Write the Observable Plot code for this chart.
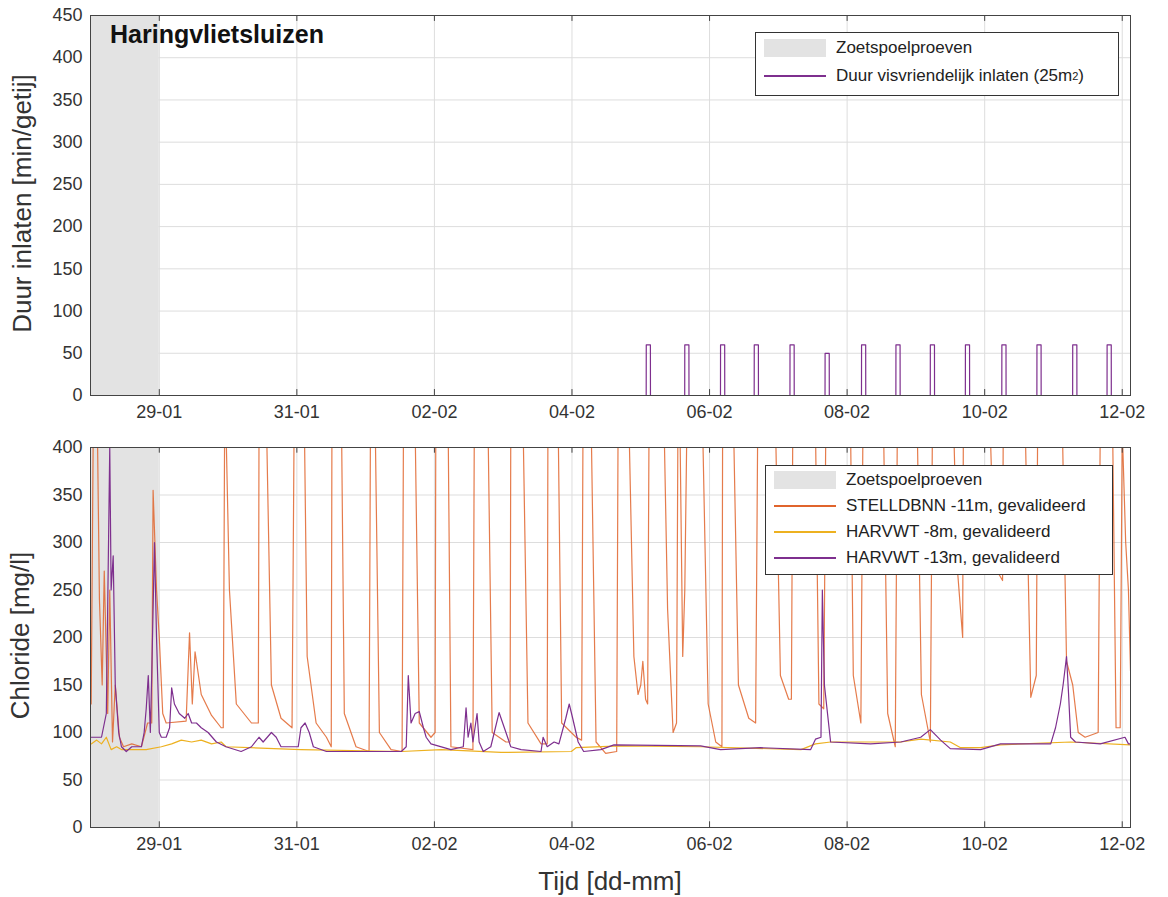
<!DOCTYPE html>
<html><head><meta charset="utf-8">
<script src="https://cdn.jsdelivr.net/npm/d3@7"></script>
<script src="https://cdn.jsdelivr.net/npm/@observablehq/plot@0.6"></script>
<style>
body{margin:0;background:#fff;font-family:"Liberation Sans",Arial,sans-serif;}
#wrap{position:relative;width:1168px;height:897px;}
.lg{position:absolute;background:#fff;border:1px solid #333;font-size:17px;color:#222;}
.row{position:absolute;left:8px;display:flex;align-items:center;white-space:nowrap;}
.sw{width:62px;margin-right:10px;}
.ylab{position:absolute;font-size:26px;color:#333;transform:rotate(-90deg);transform-origin:center;white-space:nowrap;}
</style></head><body><div id="wrap"></div>
<script>
// time in days since 28-01 00:00
const origin = Date.UTC(2021,0,28);
const T = d => new Date(origin + d*86400000);
const shade = [0, 1.0];
const pulseStart = [8.08,8.64,9.16,9.65,10.17,10.68,11.21,11.71,12.21,12.72,13.25,13.76,14.28,14.78];
const pulseValue = [60,60,60,60,60,50,60,60,60,60,60,60,60,60];
const pulseWidth = 0.06;
const stellT = [.01,.04,.10,.13,.17,.20,.25,.28,.32,.36,.42,.48,.60,.74,.83,.89,.91,.96,1.00,1.05,1.10,1.39,1.44,1.48,1.52,1.61,1.76,1.90,1.93,1.95,1.97,2.02,2.12,2.34,2.44,2.45,2.56,2.63,2.77,2.93,2.96,3.11,3.15,3.28,3.43,3.50,3.51,3.65,3.69,3.86,4.05,4.07,4.14,4.20,4.37,4.53,4.55,4.72,4.78,4.95,5.01,5.02,5.20,5.24,5.56,5.58,5.78,5.84,6.04,6.10,6.11,6.29,6.36,6.55,6.64,6.65,6.80,6.85,7.06,7.14,7.16,7.28,7.35,7.49,7.65,7.67,7.83,7.90,7.96,8.00,8.03,8.07,8.10,8.12,8.34,8.39,8.47,8.52,8.54,8.57,8.61,8.64,8.67,8.90,8.98,9.09,9.18,9.19,9.35,9.42,9.57,9.67,9.70,9.96,10.03,10.15,10.19,10.21,10.54,10.59,10.66,10.69,11.05,11.09,11.20,11.23,11.53,11.59,11.70,11.73,12.02,12.08,12.21,12.24,12.55,12.60,12.68,12.69,13.08,13.14,13.26,13.27,13.59,13.67,13.75,13.77,14.13,14.19,14.28,14.36,14.46,14.65,14.68,14.86,14.91,14.97,15.00,15.05,15.09,15.12];
const stellV = [130,420,420,240,150,270,120,250,90,150,95,85,88,85,110,110,355,250,200,120,110,112,205,130,185,140,118,105,105,420,420,250,130,110,110,420,420,150,115,105,420,420,180,110,95,85,420,420,120,85,80,420,420,100,82,80,420,420,110,95,100,420,420,85,82,420,420,100,90,90,420,420,110,88,88,420,420,110,95,92,420,420,90,78,80,420,420,180,140,150,175,135,130,420,420,230,100,110,420,420,180,250,420,420,130,90,85,420,420,150,115,110,420,420,160,135,135,420,420,130,125,420,420,160,110,420,420,120,85,420,420,140,90,420,420,275,200,420,420,275,260,420,420,137,160,420,420,175,150,100,95,100,420,420,105,105,420,300,250,165];
const harv13T = [.01,.16,.23,.28,.30,.33,.36,.41,.45,.52,.60,.74,.78,.81,.84,.87,.89,.93,.96,1.00,1.03,1.10,1.15,1.18,1.22,1.29,1.37,1.42,1.47,1.54,1.61,1.71,1.83,1.97,2.19,2.34,2.45,2.51,2.63,2.70,2.77,3.02,3.06,3.12,3.18,3.24,3.43,4.52,4.59,4.62,4.66,4.72,4.78,4.84,4.88,4.95,5.24,5.42,5.46,5.49,5.53,5.56,5.62,5.65,5.71,5.82,5.94,6.04,6.11,6.26,6.55,6.58,6.64,6.74,6.81,6.91,6.96,7.01,7.09,7.17,7.42,7.61,8.87,9.16,9.74,10.47,10.54,10.62,10.64,10.67,10.70,10.76,11.34,11.78,12.07,12.21,12.36,12.50,12.94,13.23,13.96,14.03,14.10,14.14,14.19,14.22,14.25,14.32,14.68,15.04,15.09,15.12];
const harv13V = [95,95,120,400,250,286,150,100,85,80,85,85,100,125,160,100,160,300,200,100,95,95,105,147,130,120,115,120,110,110,105,100,90,85,80,85,95,90,100,95,85,85,105,110,100,85,80,80,85,160,110,120,122,105,95,88,82,85,126,95,110,90,120,90,80,85,121,100,85,82,80,95,85,90,88,115,130,115,90,80,82,87,86,82,84,82,93,95,250,150,130,90,88,90,95,103,92,83,82,88,88,105,130,150,180,140,95,90,88,95,88,88];
const harv8T = [.01,.09,.16,.23,.30,.38,.45,.81,1.03,1.18,1.32,1.47,1.61,1.76,1.90,1.97,3.06,4.52,5.10,5.97,6.99,7.06,7.71,8.87,10.33,10.54,10.76,11.78,12.07,12.50,12.65,12.94,13.23,14.25,15.12];
const harv8V = [88,92,88,95,82,85,82,82,85,88,92,90,92,88,90,85,82,80,82,79,80,84,86,85,82,88,90,90,93,90,84,84,87,90,87];
const xTickDays = [1,3,5,7,9,11,13,15];
const topTicks = [0,50,100,150,200,250,300,350,400,450];
const botTicks = [0,50,100,150,200,250,300,350,400];

const C_OR="#e0642c", C_YE="#EDB120", C_PU="#7E2F8E";
const xdom=[T(0),T(15.12)];
const pulses=[];
pulseStart.forEach((s,i)=>{pulses.push({t:T(s-0.001),v:0},{t:T(s),v:pulseValue[i]},{t:T(s+pulseWidth),v:pulseValue[i]},{t:T(s+pulseWidth+0.001),v:0});});
const pulseLine=[{t:T(0),v:0},...pulses,{t:T(15.12),v:0}];
const ser=(ts,vs)=>ts.map((d,i)=>({t:T(d),v:vs[i]})).filter(d=>d.v!==undefined);
const common={width:1168,marginLeft:90,marginRight:38,style:{fontFamily:"Liberation Sans, Arial, sans-serif",fontSize:"18px",color:"#333"}};
const xAx=()=>Plot.axisX(xTickDays.map(T),{tickFormat:d3.utcFormat("%d-%m"),tickSize:0,tickPadding:10,fontSize:18,label:null});
const xTk=(y)=>Plot.tickX(xTickDays.map(T),{x:d=>d,y1:y[0],y2:y[1],stroke:"#444"});
const grid=(yt)=>[Plot.gridX(xTickDays.map(T),{stroke:"#ddd",strokeOpacity:1}),Plot.gridY(yt,{stroke:"#ddd",strokeOpacity:1})];
const chartTop=Plot.plot({...common,height:430,marginTop:15,marginBottom:35,
 x:{type:"utc",domain:xdom},y:{domain:[0,450]},
 marks:[...grid(topTicks),
  Plot.rect([shade],{x1:d=>T(d[0]),x2:d=>T(d[1]),y1:0,y2:450,fill:"#e3e3e3"}),
  Plot.line(pulseLine,{x:"t",y:"v",stroke:C_PU,strokeWidth:1.2}),
  Plot.ruleX(xTickDays.map(T),{y1:0,y2:7,stroke:"#444"}),
  Plot.ruleX(xTickDays.map(T),{y1:443,y2:450,stroke:"#444"}),
  Plot.axisY(topTicks,{tickSize:0,tickPadding:8,fontSize:18,label:null}),
  xAx(), Plot.frame({stroke:"#444"})]});
const chartBot=Plot.plot({...common,height:467,marginTop:17,marginBottom:70,
 x:{type:"utc",domain:xdom},y:{domain:[0,400]},
 marks:[...grid(botTicks),
  Plot.rect([shade],{x1:d=>T(d[0]),x2:d=>T(d[1]),y1:0,y2:400,fill:"#e3e3e3"}),
  Plot.line(ser(stellT,stellV),{x:"t",y:"v",stroke:C_OR,strokeWidth:1.2,strokeOpacity:0.85,clip:true}),
  Plot.line(ser(harv8T,harv8V),{x:"t",y:"v",stroke:C_YE,strokeWidth:1.2,clip:true}),
  Plot.line(ser(harv13T,harv13V),{x:"t",y:"v",stroke:C_PU,strokeWidth:1.2,clip:true}),
  Plot.ruleX(xTickDays.map(T),{y1:0,y2:6,stroke:"#444"}),
  Plot.ruleX(xTickDays.map(T),{y1:394,y2:400,stroke:"#444"}),
  Plot.axisY(botTicks,{tickSize:0,tickPadding:8,fontSize:18,label:null}),
  xAx(), Plot.frame({stroke:"#444"})]});
const w=document.getElementById("wrap");
chartTop.style.position="absolute";chartTop.style.left="0";chartTop.style.top="0";
chartBot.style.position="absolute";chartBot.style.left="0";chartBot.style.top="430px";
w.append(chartTop,chartBot);
const add=h=>w.insertAdjacentHTML("beforeend",h);
add(`<div style="position:absolute;left:110px;top:20px;font-size:25px;font-weight:bold;color:#111">Haringvlietsluizen</div>`);
add(`<div class="ylab" style="left:-108px;top:188px;width:260px;text-align:center">Duur inlaten [min/getij]</div>`);
add(`<div class="ylab" style="left:-80px;top:620px;width:200px;text-align:center">Chloride [mg/l]</div>`);
add(`<div style="position:absolute;left:0;width:1220px;top:866px;text-align:center;font-size:26px;color:#333">Tijd [dd-mm]</div>`);
add(`<div class="lg" style="left:755px;top:32px;width:362px;height:62px">
<div class="row" style="top:5px"><div class="sw" style="height:18px;background:#e3e3e3"></div>Zoetspoelproeven</div>
<div class="row" style="top:33px"><div class="sw" style="height:1.5px;background:${C_PU}"></div>Duur visvriendelijk inlaten (25m<sup style="font-size:11px">2</sup>)</div></div>`);
add(`<div class="lg" style="left:765px;top:465px;width:346px;height:108px">
<div class="row" style="top:4px"><div class="sw" style="height:18px;background:#e3e3e3"></div>Zoetspoelproeven</div>
<div class="row" style="top:30px"><div class="sw" style="height:1.5px;background:${C_OR}"></div>STELLDBNN -11m, gevalideerd</div>
<div class="row" style="top:56px"><div class="sw" style="height:1.5px;background:${C_YE}"></div>HARVWT -8m, gevalideerd</div>
<div class="row" style="top:82px"><div class="sw" style="height:1.5px;background:${C_PU}"></div>HARVWT -13m, gevalideerd</div></div>`);
</script></body></html>
